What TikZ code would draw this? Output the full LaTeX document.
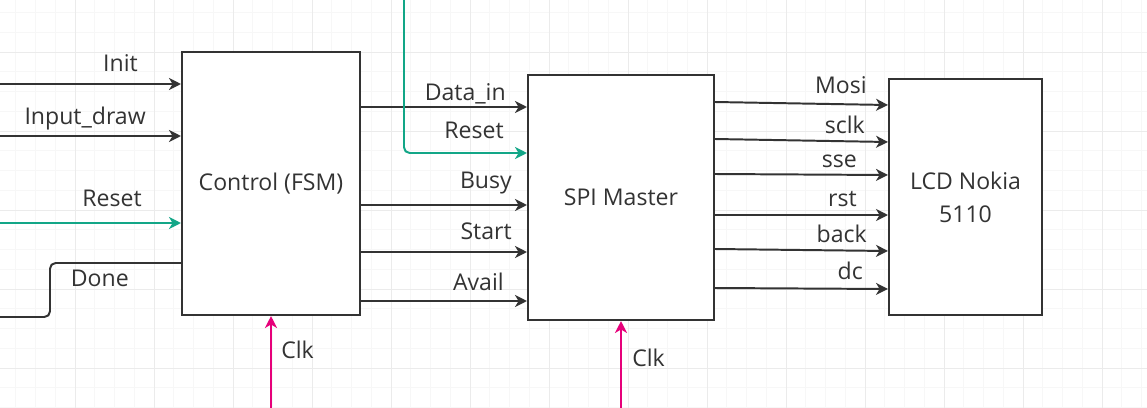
\documentclass[tikz,border=0pt]{standalone}
\usepackage{fontspec}
\setmainfont{Open Sans}
\usepackage{tikz}
\usetikzlibrary{arrows.meta}
\definecolor{ink}{HTML}{333333}
\definecolor{rstgreen}{HTML}{12A687}
\definecolor{clkpink}{HTML}{E6007A}
\definecolor{gridmajor}{HTML}{EBEBEB}
\definecolor{gridminor}{HTML}{F7F7F7}

\begin{document}
\begin{tikzpicture}[x=0.025cm, y=-0.025cm,
  every node/.style={font=\fontsize{16.4}{23.5}\selectfont, text=ink},
  block/.style={draw=ink, line width=1.4pt, fill=white, inner sep=0pt, align=center},
  sig/.style={draw=ink, line width=1.4pt, -{Stealth[length=8.5pt,width=8.5pt,inset=2.5pt]}},
  rstsig/.style={sig, draw=rstgreen, rounded corners=4pt},
  clksig/.style={sig, draw=clkpink},
  lbl/.style={anchor=base east, inner sep=0pt},
  lblr/.style={anchor=base west, inner sep=0pt}]
\useasboundingbox (0,0) rectangle (1147,408);
% background grid
\fill[white] (0,0) rectangle (1147,408);
\foreach \gx in {-4,15.75,...,1150} \draw[gridminor, line width=0.5pt] (\gx,0) -- (\gx,408);
\foreach \gy in {-27,-7.25,...,420} \draw[gridminor, line width=0.5pt] (0,\gy) -- (1147,\gy);
\foreach \gx in {-4,75,...,1150} \draw[gridmajor, line width=0.7pt] (\gx,0) -- (\gx,408);
\foreach \gy in {-27,52,...,420} \draw[gridmajor, line width=0.7pt] (0,\gy) -- (1147,\gy);

% blocks
\node[block, minimum width=4.45cm, minimum height=6.575cm] (ctrl) at (271,183.5) {Control (FSM)};
\node[block, minimum width=4.65cm, minimum height=6.125cm] (spi) at (621,197.5) {SPI Master};
\node[block, minimum width=3.825cm, minimum height=5.9cm] (lcd) at (965.5,197) {LCD Nokia\\5110};

% inputs of the control block
\coordinate (initsrc) at (0,84);
\coordinate (drawsrc) at (0,136);
\coordinate (rstsrc) at (0,223);
\coordinate (donesink) at (0,317);
\draw[sig] (initsrc) -- (ctrl.west |- initsrc);
\draw[sig] (drawsrc) -- (ctrl.west |- drawsrc);
\draw[rstsig] (rstsrc) -- (ctrl.west |- rstsrc);
\draw[ink, line width=1.4pt, rounded corners=4pt] (ctrl.west |- 0,263) -- (50,263) -- (50,317) -- (donesink);
\node[lbl] (linit) at (138,71) {Init};
\node[lbl] (ldraw) at (146,124) {Input\_draw};
\node[lbl] (lrst) at (142,206) {Reset};
\node[lbl] (ldone) at (129,286) {Done};

% control -> spi
\coordinate (rsttop) at (404,0);
\draw[sig] (ctrl.east |- 0,107) -- (spi.west |- 0,107);
\draw[rstsig] (rsttop) |- (spi.west |- 0,153);
\draw[sig] (ctrl.east |- 0,205) -- (spi.west |- 0,205);
\draw[sig] (ctrl.east |- 0,252) -- (spi.west |- 0,252);
\draw[sig] (ctrl.east |- 0,301) -- (spi.west |- 0,301);
\node[lbl] (ldata) at (506,100) {Data\_in};
\node[lbl] (lrst2) at (504,138) {Reset};
\node[lbl] (lbusy) at (512,188) {Busy};
\node[lbl] (lstart) at (512,239) {Start};
\node[lbl] (lavail) at (504,290) {Avail};

% spi -> lcd
\draw[sig] (spi.east |- 0,102) -- (lcd.west |- 0,105);
\draw[sig] (spi.east |- 0,139) -- (lcd.west |- 0,142);
\draw[sig] (spi.east |- 0,174) -- (lcd.west |- 0,175);
\draw[sig] (spi.east |- 0,215) -- (lcd.west |- 0,215);
\draw[sig] (spi.east |- 0,249) -- (lcd.west |- 0,251);
\draw[sig] (spi.east |- 0,288) -- (lcd.west |- 0,289);
\node[lbl] (lmosi) at (867,93) {Mosi};
\node[lbl] (lsclk) at (865,133) {sclk};
\node[lbl] (lsse) at (857,167) {sse};
\node[lbl] (lrst3) at (857,206) {rst};
\node[lbl] (lback) at (867,242) {back};
\node[lbl] (ldc) at (863,279) {dc};

% clocks
\coordinate (clka) at (ctrl.south |- 0,408);
\coordinate (clkb) at (spi.south |- 0,408);
\draw[clksig] (clka) -- (ctrl.south);
\draw[clksig] (clkb) -- (spi.south);
\node[lblr] (lclka) at (281,358) {Clk};
\node[lblr] (lclkb) at (632,366) {Clk};
\end{tikzpicture}
\end{document}
